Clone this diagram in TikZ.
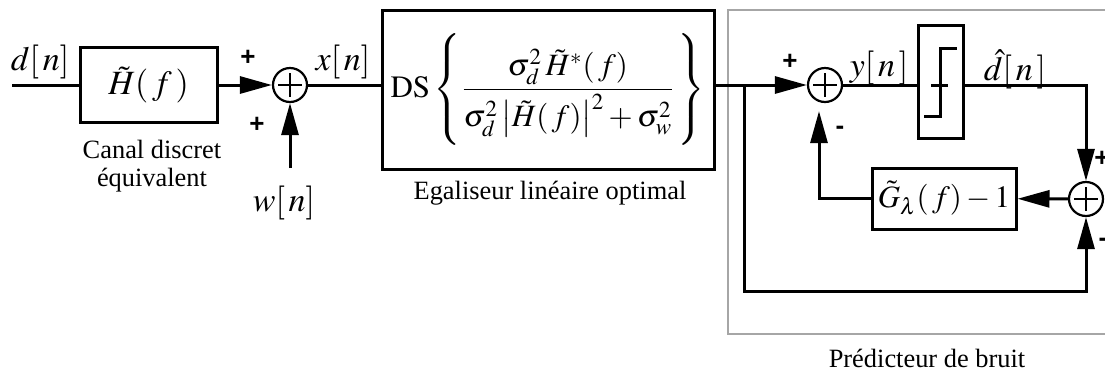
\documentclass[tikz,border=0pt]{standalone}
\usepackage{mathptmx}
\usepackage[no-math]{fontspec}
\setmainfont{Liberation Serif}
\newfontfamily\signfont{Liberation Sans}
\usetikzlibrary{arrows.meta,positioning}

\begin{document}
\begin{tikzpicture}[x=0.5pt, y=-0.5pt,
  every node/.style={font=\fontsize{13.2}{14}\selectfont},
  wire/.style={line width=1.5pt},
  sig/.style={wire, -{Triangle[length=16pt,width=8.5pt]}},
  block/.style={draw, line width=1.5pt, inner sep=0pt},
  sum/.style={circle, draw, line width=1.1pt, minimum size=17pt, inner sep=0pt,
    path picture={\draw[line width=1.1pt]
      ([yshift=-2.5pt]path picture bounding box.north) -- ([yshift=2.5pt]path picture bounding box.south)
      ([xshift=2.5pt]path picture bounding box.west) -- ([xshift=-2.5pt]path picture bounding box.east);}},
  sign/.style={font=\signfont\bfseries\fontsize{13}{13}\selectfont, inner sep=0pt},
  var/.style={font=\fontsize{17}{19}\selectfont, inner sep=0pt}]

\useasboundingbox (0,0) rectangle (1105,371);

% noise predictor frame
\draw[gray!70, line width=1pt] (1112,10) -- (728,10) -- (728,334) -- (1112,334);

% blocks
\coordinate (in) at (12,85);
\node[block, minimum width=68.5pt, minimum height=37.5pt] (chan) at (148.5,85)
  {\fontsize{17}{19}\selectfont $\tilde H(\,f\,)$};
\node[sum] (s1) at (290,85) {};
\coordinate (w) at (290,168);
\node[block, minimum width=166pt, minimum height=79.5pt] (eq) at (548,89.5)
  {\fontsize{15.5}{18}\selectfont $\mathrm{DS}\left\{\rule[-23pt]{0pt}{52pt}\displaystyle
   \frac{\sigma_d^2\,\tilde H^*(\,f)}{\sigma_d^2\left|\tilde H(\,f)\right|^2+\sigma_w^2}\,\right\}$};
\node[sum] (s2) at (825,85) {};
\node[block, minimum width=22.5pt, minimum height=56.5pt] (dec) at (940.5,81.5) {};
\node[block, minimum width=72pt, minimum height=30.5pt] (gbox) at (944,198.5)
  {\fontsize{15.5}{17}\selectfont $\tilde G_\lambda(\,f)-1$};
\node[sum] (s3) at (1086,199) {};
\coordinate (br) at (744,85);
\coordinate (bot) at (744,291);

% decision symbol
\draw[wire] (924,116) -- (940,116) -- (940,48) -- (957,48);
\draw[wire] (931,85) -- (948,85);

% connections
\draw[wire] (in) -- (chan);
\draw[sig] (chan) -- (s1);
\draw[sig] (w) -- (s1);
\draw[wire] (s1) -- (s1 -| eq.west);
\draw[sig] (s1 -| eq.east) -- (s2);
\draw[wire] (s2) -- (s2 -| dec.west);
\draw[sig] (s2 -| dec.east) -| (s3.north);
\draw[sig] (br) -- (bot) -| (s3.south);
\draw[sig] (s3) -- (gbox);
\draw[sig] (gbox.west) -| ([xshift=-3pt,yshift=-4pt]s2.south);

% signals
\node[var] at (40,62) {$d[\,n]$};
\node[var] at (343,62) {$x[\,n]$};
\node[var] at (284,203) {$w[\,n]$};
\node[var] at (879,68) {$y[\,n\,]$};
\node[var] at (1015,69) {$\hat d[\,n\,]$};

% signs
\node[sign] at (248,58) {+};
\node[sign] at (257,125) {+};
\node[sign] at (790,62) {+};
\node[sign] at (840,130) {-};
\node[sign] at (1102,159) {+};
\node[sign] at (1103,242) {-};

% captions
\node[align=center] at (152,166) {Canal discret\\équivalent};
\node at (550,193) {Egaliseur linéaire optimal};
\node at (927,358) {Prédicteur de bruit};
\end{tikzpicture}
\end{document}
